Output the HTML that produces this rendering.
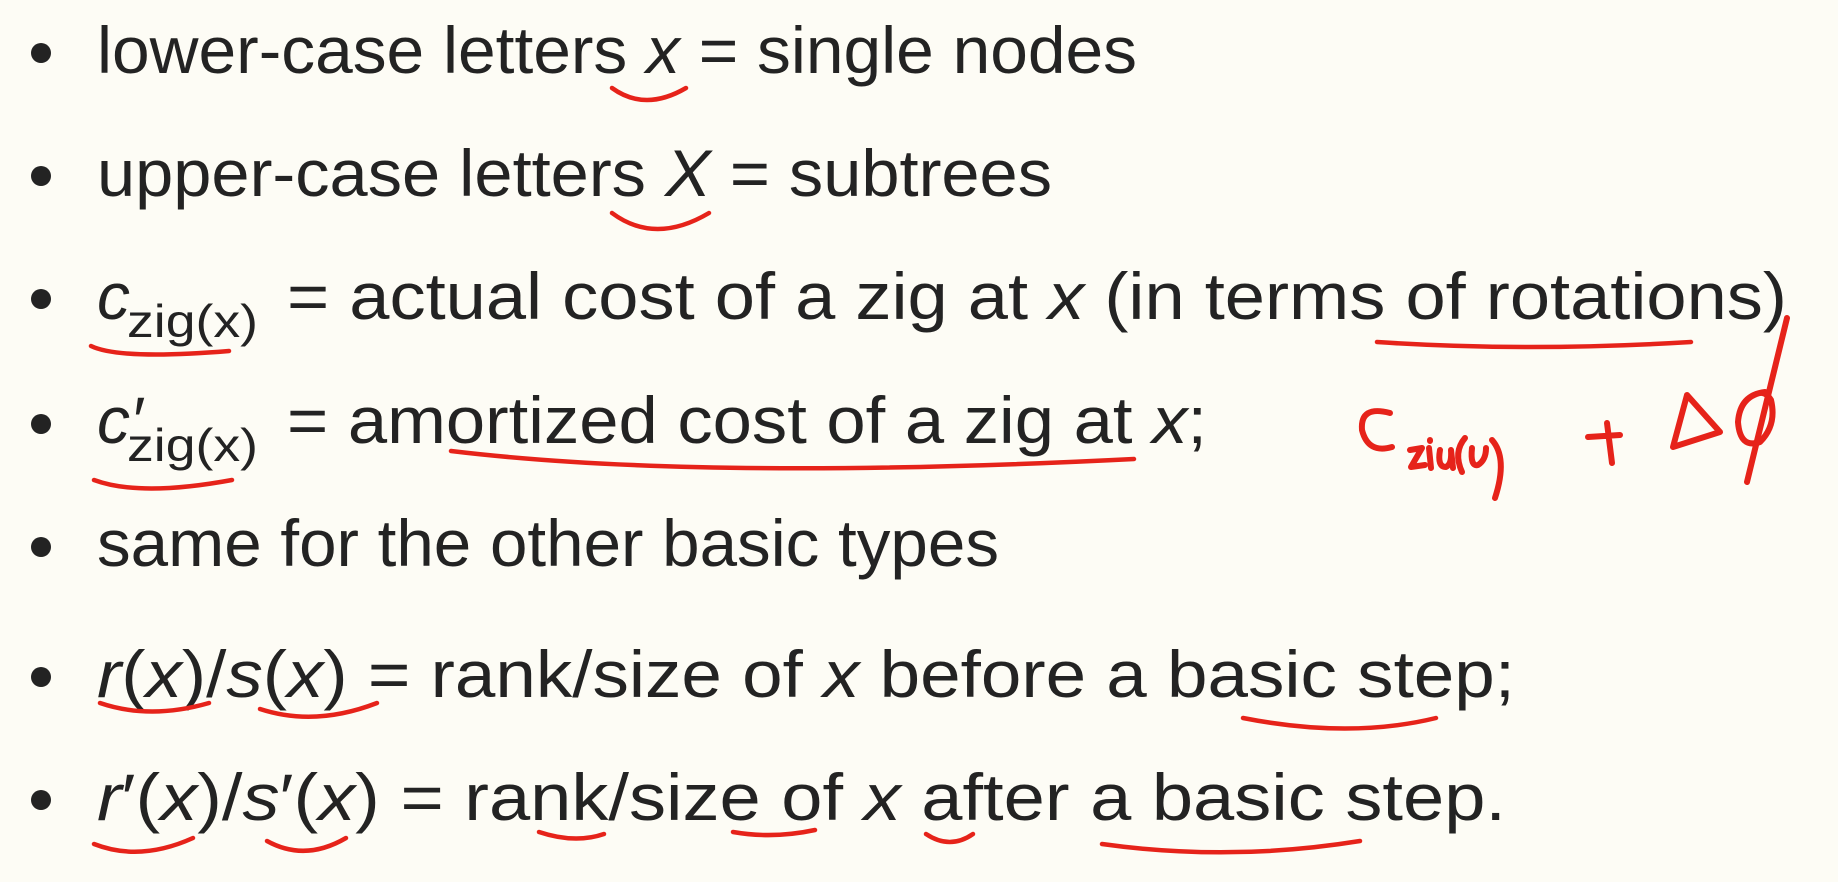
<!DOCTYPE html>
<html><head><style>
html,body{margin:0;padding:0;background:#fdfcf5;}
svg{display:block}
text{font-family:"Liberation Sans","DejaVu Sans",sans-serif;fill:#232323;font-size:66px}
.i{font-style:italic}
.s{font-size:46px}
</style></head><body>
<svg width="1838" height="882" viewBox="0 0 1838 882" xmlns="http://www.w3.org/2000/svg">
<rect width="1838" height="882" fill="#fdfcf5"/>
<g fill="#232323">
<circle cx="41" cy="53" r="10"/><circle cx="41" cy="176" r="10"/><circle cx="41" cy="299" r="10"/>
<circle cx="41" cy="424" r="10"/><circle cx="41" cy="547" r="10"/><circle cx="41" cy="677" r="10"/><circle cx="41" cy="800" r="10"/>
</g>
<text x="97" y="73" textLength="1040" lengthAdjust="spacingAndGlyphs">lower-case letters <tspan class="i">x</tspan> = single nodes</text>
<text x="97" y="196" textLength="955" lengthAdjust="spacingAndGlyphs">upper-case letters <tspan class="i">X</tspan> = subtrees</text>
<text x="97" y="319" class="i">c</text>
<text x="127" y="337" class="s" textLength="131" lengthAdjust="spacingAndGlyphs">zig(x)</text>
<text x="287" y="319" textLength="1500" lengthAdjust="spacingAndGlyphs">= actual cost of a zig at <tspan class="i">x</tspan> (in terms of rotations)</text>
<text x="97" y="443" class="i">c′</text>
<text x="127" y="461" class="s" textLength="131" lengthAdjust="spacingAndGlyphs">zig(x)</text>
<text x="287" y="443" textLength="920" lengthAdjust="spacingAndGlyphs">= amortized cost of a zig at <tspan class="i">x</tspan>;</text>
<text x="97" y="566" textLength="902" lengthAdjust="spacingAndGlyphs">same for the other basic types</text>
<text x="97" y="697" textLength="1418" lengthAdjust="spacingAndGlyphs"><tspan class="i">r</tspan>(<tspan class="i">x</tspan>)/<tspan class="i">s</tspan>(<tspan class="i">x</tspan>) = rank/size of <tspan class="i">x</tspan> before a basic step;</text>
<text x="97" y="820" textLength="1409" lengthAdjust="spacingAndGlyphs"><tspan class="i">r</tspan>′(<tspan class="i">x</tspan>)/<tspan class="i">s</tspan>′(<tspan class="i">x</tspan>) = rank/size of <tspan class="i">x</tspan> after a basic step.</text>
<g fill="none" stroke="#e6231a" stroke-width="4.5" stroke-linecap="round" stroke-linejoin="round">
<path d="M612,88 Q645,112 686,88"/>
<path d="M612,213 Q655,245 709,213"/>
<path d="M91,346 Q120,360 229,351"/>
<path d="M1377,342 Q1525,352 1691,342"/>
<path d="M94,480 Q140,497 232,480"/>
<path d="M451,451 Q700,481 1134,459"/>
<path d="M100,703 Q150,720 209,703"/>
<path d="M260,709 Q315,727 377,703"/>
<path d="M1243,718 Q1350,739 1436,718"/>
<path d="M94,844 Q140,862 193,838"/>
<path d="M267,841 Q305,862 346,838"/>
<path d="M539,832 Q575,844 604,834"/>
<path d="M733,832 Q773,839 815,830"/>
<path d="M926,834 Q950,850 973,834"/>
<path d="M1102,844 Q1230,862 1360,841"/>
</g>
<g fill="none" stroke="#e6231a" stroke-width="6" stroke-linecap="round" stroke-linejoin="round">
<path d="M1390,413 Q1360,405 1362,430 Q1368,454 1392,447"/>
<path d="M1410,450 L1422,448 L1411,467 L1425,465"/>
<path d="M1429,448 L1431,468 M1430,440 L1430,441"/>
<path d="M1440,450 Q1437,467 1446,467 Q1452,464 1451,450 L1453,468"/>
<path d="M1465,438 Q1453,452 1462,472"/>
<path d="M1472,448 Q1470,467 1478,465 Q1486,460 1486,448"/>
<path d="M1492,440 Q1508,458 1495,498"/>
<path d="M1607,423 L1612,463 M1588,437 L1620,435"/>
<path d="M1687,395 L1673,447 L1720,432 Z"/>
<path d="M1765,392 Q1740,395 1738,422 Q1740,449 1760,442 Q1777,425 1771,400 Q1766,392 1760,393"/>
<path d="M1787,318 L1747,482"/>
</g>
</svg>
</body></html>
